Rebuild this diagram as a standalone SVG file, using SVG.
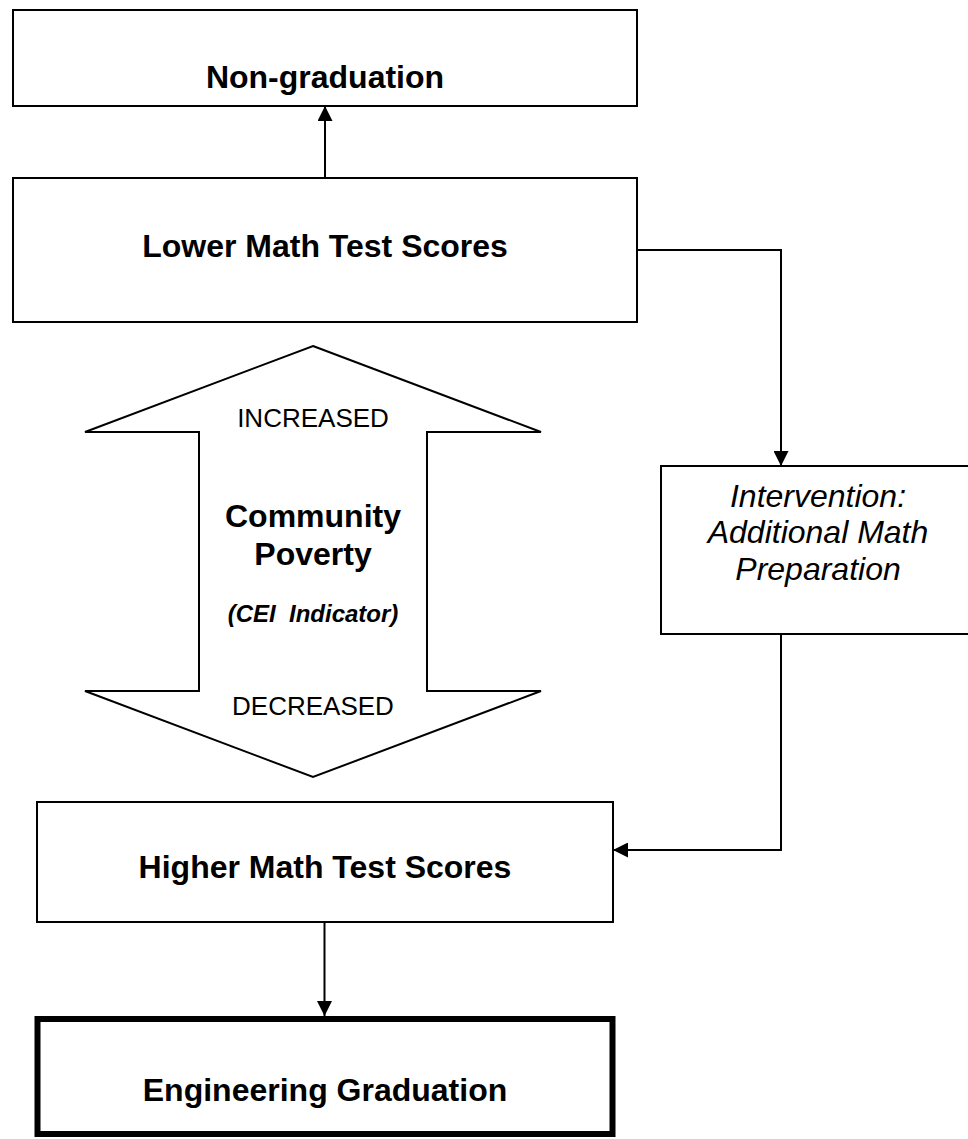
<svg xmlns="http://www.w3.org/2000/svg" width="968" height="1139" viewBox="0 0 968 1139">
<style>
.box{fill:#fff;stroke:#000;stroke-width:2}
.thick{fill:#fff;stroke:#000;stroke-width:6}
.conn{fill:none;stroke:#000;stroke-width:2}
.t{font-family:"Liberation Sans",Arial,sans-serif;fill:#000;text-anchor:middle}
.b{font-weight:bold;font-size:32px}
.i{font-style:italic;font-size:32px}
.r{font-size:26px}
.bi{font-weight:bold;font-style:italic;font-size:24px}
</style>
<defs>
<marker id="ah" markerUnits="userSpaceOnUse" markerWidth="15" markerHeight="15" viewBox="0 0 15 15" refX="15" refY="7.5" orient="auto">
<path d="M0,0 L15,7.5 L0,15 z" fill="#000"/>
</marker>
</defs>
<rect width="968" height="1139" fill="#fff"/>
<g id="connectors">
<path class="conn" d="M325,178 V106" marker-end="url(#ah)"/>
<path class="conn" d="M637,250 H781 V466" marker-end="url(#ah)"/>
<path class="conn" d="M781,634 V850 H613" marker-end="url(#ah)"/>
<path class="conn" d="M324.5,922 V1016" marker-end="url(#ah)"/>
</g>
<g id="non-graduation">
<rect class="box" x="13" y="10" width="624" height="96"/>
<text class="t b" x="325" y="88">Non-graduation</text>
</g>
<g id="lower-math">
<rect class="box" x="13" y="178" width="624" height="144"/>
<text class="t b" x="325" y="257">Lower Math Test Scores</text>
</g>
<g id="community-poverty">
<polygon class="box" points="313,346 541,432 427,432 427,691 541,691 313,777 85,691 199,691 199,432 85,432"/>
<text class="t r" x="313" y="427">INCREASED</text>
<text class="t b" x="313" y="527">Community</text>
<text class="t b" x="313" y="565">Poverty</text>
<text class="t bi" x="313" y="622" xml:space="preserve">(CEI  Indicator)</text>
<text class="t r" x="313" y="715">DECREASED</text>
</g>
<g id="intervention">
<rect class="box" x="661" y="466" width="310" height="168"/>
<text class="t i" x="818" y="507">Intervention:</text>
<text class="t i" x="818" y="543">Additional Math</text>
<text class="t i" x="818" y="580">Preparation</text>
</g>
<g id="higher-math">
<rect class="box" x="37" y="802" width="576" height="120"/>
<text class="t b" x="325" y="878">Higher Math Test Scores</text>
</g>
<g id="engineering-graduation">
<rect class="thick" x="37.5" y="1019" width="575" height="115"/>
<text class="t b" x="325" y="1101">Engineering Graduation</text>
</g>
</svg>
